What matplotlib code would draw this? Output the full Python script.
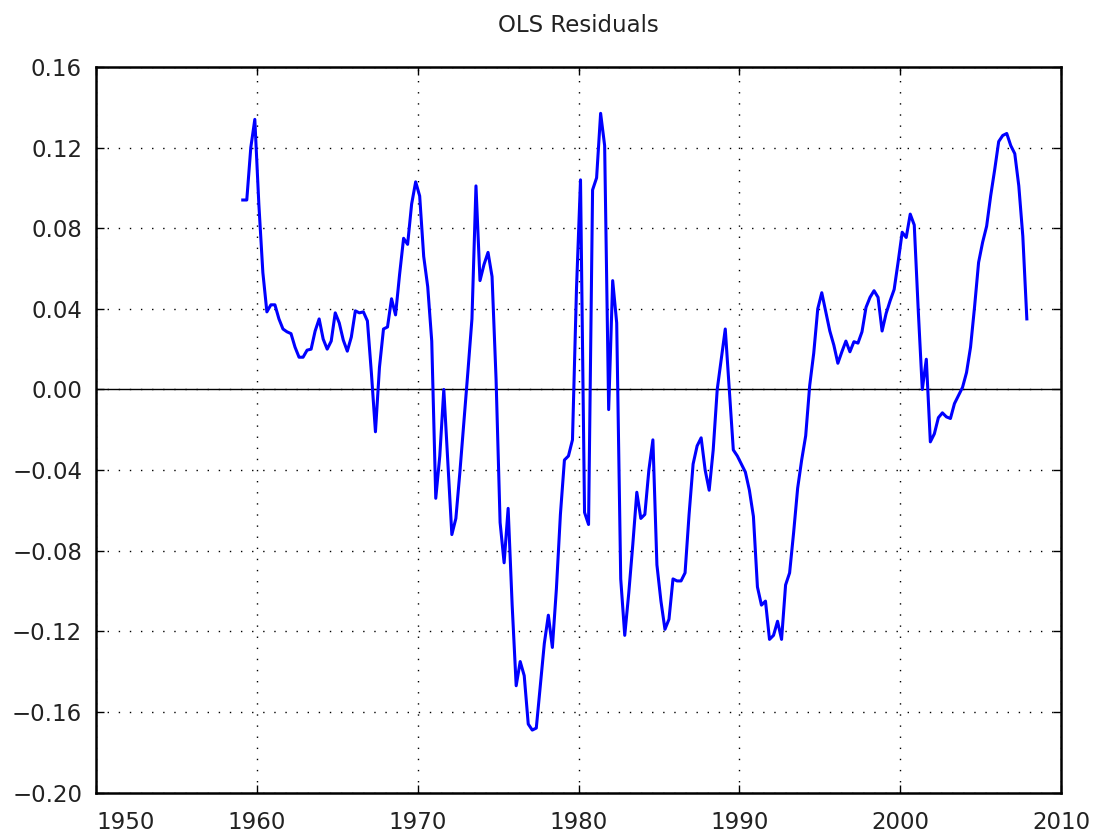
import matplotlib
matplotlib.use("Agg")
import matplotlib.pyplot as plt
import numpy as np

# quarterly OLS residuals, 1959Q1 .. 2007Q4
start_year = 1959.125
resid = [
    0.094, 0.094, 0.120, 0.134, 0.092, 0.058, 0.0385, 0.042, 0.042, 0.035,
    0.030, 0.0286, 0.0277, 0.021, 0.016, 0.016, 0.0195, 0.020, 0.029, 0.035,
    0.025, 0.020, 0.024, 0.038, 0.033, 0.0245, 0.019, 0.026, 0.039, 0.038,
    0.0385, 0.034, 0.008, -0.021, 0.011, 0.030, 0.031, 0.045, 0.037, 0.057,
    0.075, 0.072, 0.092, 0.103, 0.096, 0.066, 0.051, 0.024, -0.054, -0.033,
    0.000, -0.036, -0.072, -0.064, -0.041, -0.016, 0.009, 0.035, 0.101, 0.054,
    0.062, 0.068, 0.056, 0.005, -0.066, -0.086, -0.059, -0.107, -0.147, -0.135,
    -0.142, -0.166, -0.169, -0.168, -0.147, -0.126, -0.112, -0.128, -0.099, -0.062,
    -0.035, -0.033, -0.025, 0.050, 0.104, -0.061, -0.067, 0.099, 0.105, 0.137,
    0.121, -0.010, 0.054, 0.033, -0.094, -0.122, -0.101, -0.077, -0.051, -0.064,
    -0.062, -0.040, -0.025, -0.087, -0.105, -0.119, -0.114, -0.094, -0.095, -0.095,
    -0.091, -0.062, -0.037, -0.028, -0.024, -0.040, -0.050, -0.030, 0.000, 0.015,
    0.030, 0.000, -0.030, -0.033, -0.037, -0.041, -0.050, -0.063, -0.098, -0.107,
    -0.105, -0.124, -0.122, -0.115, -0.124, -0.097, -0.091, -0.071, -0.049, -0.035,
    -0.023, 0.002, 0.018, 0.040, 0.048, 0.0385, 0.029, 0.022, 0.013, 0.0187,
    0.024, 0.0187, 0.0237, 0.023, 0.0286, 0.0407, 0.0457, 0.049, 0.0457, 0.029,
    0.0377, 0.044, 0.0496, 0.0634, 0.078, 0.0754, 0.087, 0.0816, 0.039, 0.000,
    0.015, -0.026, -0.022, -0.014, -0.0116, -0.0136, -0.0144, -0.007, -0.003, 0.001,
    0.0084, 0.021, 0.041, 0.063, 0.073, 0.081, 0.096, 0.109, 0.123, 0.126,
    0.127, 0.121, 0.117, 0.101, 0.076, 0.035,
]
years = start_year + 0.25 * np.arange(len(resid))

x_ticks = [1950, 1960, 1970, 1980, 1990, 2000, 2010]
y_ticks = [0.16, 0.12, 0.08, 0.04, 0.00, -0.04, -0.08, -0.12, -0.16, -0.20]

fig = plt.figure(figsize=(10.97, 8.32), dpi=100)
ax = fig.add_axes([0.0875, 0.0474, 0.8797, 0.8721])

ax.plot(years, resid, color="#0000ff", lw=2.2, zorder=3)
ax.axhline(0, color="black", lw=1.0, zorder=2)

ax.set_xlim(1950, 2010)
ax.set_ylim(-0.20, 0.16)
ax.set_xticks(x_ticks)
ax.set_yticks(y_ticks)
ax.set_yticklabels([f"{v:.2f}".replace("-", "\u2212") for v in y_ticks])

ax.grid(True, color="black", lw=1.0, linestyle=(0, (1, 7)))
ax.tick_params(direction="in", length=6, width=1, top=True, right=True,
               labelsize=16.5, labelcolor="#222222")
ax.tick_params(axis="x", pad=13)
ax.tick_params(axis="y", pad=10)
ax.get_xticklabels()[0].set_ha("left")
for s in ax.spines.values():
    s.set_linewidth(1.8)

ax.set_title("OLS Residuals", fontsize=16.5, color="#222222", pad=25)

fig.savefig("out.png", dpi=100)
